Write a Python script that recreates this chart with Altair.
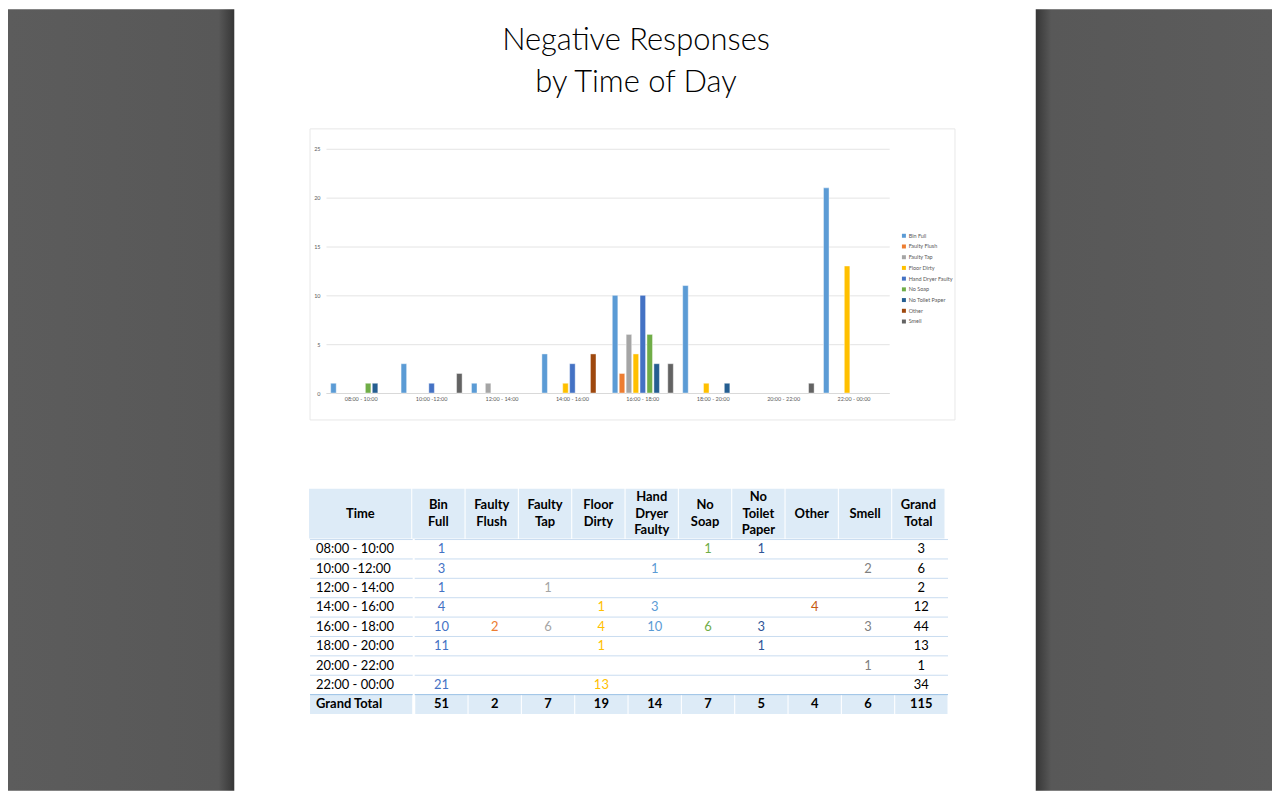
import altair as alt
import pandas as pd

# ---------------- data ----------------
times = ["08:00 - 10:00", "10:00 -12:00", "12:00 - 14:00", "14:00 - 16:00",
         "16:00 - 18:00", "18:00 - 20:00", "20:00 - 22:00", "22:00 - 00:00"]
categories = ["Bin Full", "Faulty Flush", "Faulty Tap", "Floor Dirty",
              "Hand Dryer Faulty", "No Soap", "No Toilet Paper", "Other", "Smell"]

bin_full        = [1, 3, 1, 4, 10, 11, None, 21]
faulty_flush    = [None, None, None, None, 2, None, None, None]
faulty_tap      = [None, None, 1, None, 6, None, None, None]
floor_dirty     = [None, None, None, 1, 4, 1, None, 13]
hand_dryer      = [None, 1, None, 3, 10, None, None, None]
no_soap         = [1, None, None, None, 6, None, None, None]
no_toilet_paper = [1, None, None, None, 3, 1, None, None]
other           = [None, None, None, 4, None, None, None, None]
smell           = [None, 2, None, None, 3, None, 1, None]

row_totals = [3, 6, 2, 12, 44, 13, 1, 34]
column_totals = [51, 2, 7, 19, 14, 7, 5, 4, 6]
grand_total = 115

header_labels = ["Bin\nFull", "Faulty\nFlush", "Faulty\nTap", "Floor\nDirty",
                 "Hand\nDryer\nFaulty", "No\nSoap", "No\nToilet\nPaper",
                 "Other", "Smell", "Grand\nTotal"]

title_lines = ["Negative Responses", "by Time of Day"]

series = [bin_full, faulty_flush, faulty_tap, floor_dirty, hand_dryer,
          no_soap, no_toilet_paper, other, smell]

# ---------------- styles ----------------
bar_colors = ["#5b9bd5", "#ed7d31", "#a5a5a5", "#ffc000", "#4472c4",
              "#70ad47", "#255e91", "#9e480e", "#636363"]
table_colors = ["#4472c4", "#ed7d31", "#a5a5a5", "#ffc000", "#5b9bd5",
                "#70ad47", "#2f5597", "#c55a11", "#7f7f7f"]
FONT = "Lato"
HEAD_BG = "#ddebf7"

# ---------------- tables built from arrays ----------------
bar_rows = []
for cat, vals in zip(categories, series):
    for t, v in zip(times, vals):
        if v is not None:
            bar_rows.append({"Time": t, "Category": cat, "Count": v})
bars_df = pd.DataFrame(bar_rows)

columns = categories + ["Grand Total"]
row_names = times + ["Grand Total"]

cells = []
for cat, vals in zip(categories, series):
    for t, v in zip(times, vals):
        if v is not None:
            cells.append({"Row": t, "Column": cat, "Value": str(v), "Kind": "cell"})
for t, v in zip(times, row_totals):
    cells.append({"Row": t, "Column": "Grand Total", "Value": str(v), "Kind": "rowtotal"})
for cat, v in zip(categories, column_totals):
    cells.append({"Row": "Grand Total", "Column": cat, "Value": str(v), "Kind": "total"})
cells.append({"Row": "Grand Total", "Column": "Grand Total", "Value": str(grand_total), "Kind": "total"})
cells_df = pd.DataFrame(cells)

header_df = pd.DataFrame({"Column": columns, "Label": header_labels})
rows_df = pd.DataFrame({"Row": row_names})
total_bg_df = pd.DataFrame({"Row": ["Grand Total"] * len(columns), "Column": columns})
title_df = pd.DataFrame({"Line": title_lines})
one_df = pd.DataFrame({"s": [0]})


def spacer(w, h):
    return alt.Chart(one_df).mark_text(text="", fontSize=1, baseline="top").encode(
        x=alt.value(1), y=alt.value(1)).properties(width=w, height=h)


def gray(w, h, stops):
    grad = alt.LinearGradient(
        gradient="linear", x1=0, x2=1, y1=0, y2=0,
        stops=[alt.GradientStop(offset=o, color=c) for o, c in stops])
    return alt.Chart(one_df).mark_rect(color=grad).encode(
        x=alt.value(0), x2=alt.value(w), y=alt.value(0), y2=alt.value(h)
    ).properties(width=w, height=h)


# ---------------- title ----------------
title_unit = alt.Chart(title_df).mark_text(
    font=FONT, fontSize=31, fontWeight=300, color="#000000", baseline="alphabetic"
).encode(
    x=alt.value(403),
    y=alt.Y("Line:N", sort=title_lines,
            scale=alt.Scale(type="point", domain=title_lines, range=[41, 83], padding=0),
            axis=None),
    text="Line:N",
).properties(width=800, height=119)

# ---------------- bar chart ----------------
bar_marks = alt.Chart(bars_df).mark_bar(stroke="white", strokeWidth=0.6, strokeOpacity=0.7).encode(
    x=alt.X("Time:N", sort=times,
            scale=alt.Scale(domain=times, paddingInner=0.133, paddingOuter=0.0665),
            axis=alt.Axis(title=None, labelAngle=0, labelFont=FONT, labelFontSize=5.5,
                          labelColor="#595959", domainColor="#d9d9d9", ticks=False,
                          labelPadding=4)),
    xOffset=alt.XOffset("Category:N", sort=categories,
                        scale=alt.Scale(domain=categories, paddingInner=0.2, paddingOuter=0)),
    y=alt.Y("Count:Q", scale=alt.Scale(domain=[0, 25]),
            axis=alt.Axis(title=None, values=[0, 5, 10, 15, 20, 25], domain=False,
                          ticks=False, gridColor="#e4e4e4", labelFont=FONT,
                          labelFontSize=5.5, labelColor="#595959", labelPadding=6)),
    color=alt.Color("Category:N", sort=categories,
                    scale=alt.Scale(domain=categories, range=bar_colors),
                    legend=alt.Legend(title=None, orient="none", legendX=577, legendY=84.5,
                                      symbolType="square", symbolSize=16,
                                      symbolStrokeWidth=0, labelFont=FONT,
                                      labelFontSize=5.5, labelColor="#595959",
                                      rowPadding=3.75, labelOffset=2)),
)
chart_frame = alt.Chart(one_df).mark_rect(fill="transparent", stroke="#e8e8e8", strokeWidth=1).encode(
    x=alt.value(-16), x2=alt.value(631), y=alt.value(-20), y2=alt.value(272))

bars = alt.layer(chart_frame, bar_marks).properties(width=565, height=245)

# ---------------- table ----------------
X_cols = alt.X("Column:N", sort=columns,
               scale=alt.Scale(domain=columns, paddingInner=0, paddingOuter=0), axis=None)
Y_rows = alt.Y("Row:N", sort=row_names,
               scale=alt.Scale(domain=row_names, paddingInner=0, paddingOuter=0), axis=None)
cell_w = alt.RelativeBandSize(band=0.98)


def header_text(n, y):
    return alt.Chart(header_df).transform_calculate(
        n="length(split(datum.Label, '\\n'))"
    ).transform_filter(f"datum.n == {n}").mark_text(
        font=FONT, fontSize=13, fontWeight="bold", lineBreak="\n", lineHeight=16.5,
        baseline="middle", color="#000000", clip=True
    ).encode(x=X_cols, y=alt.value(y), text="Label:N")


values_header = alt.layer(
    alt.Chart(header_df).mark_rect(fill=HEAD_BG, width=cell_w).encode(
        x=X_cols, y=alt.value(0), y2=alt.value(50)),
    header_text(1, 25),
    header_text(2, 16.75),
    header_text(3, 8.5),
).properties(width=535, height=50)

time_df = pd.DataFrame({"Label": ["Time"]})
time_header = alt.layer(
    alt.Chart(time_df).mark_rect(fill=HEAD_BG).encode(
        x=alt.value(0), x2=alt.value(102.5), y=alt.value(0), y2=alt.value(50)),
    alt.Chart(time_df).mark_text(font=FONT, fontSize=13, fontWeight="bold",
                                 baseline="middle", color="#000000", clip=True).encode(
        x=alt.value(51.5), y=alt.value(25), text="Label:N"),
).properties(width=103, height=50)

rule_color = alt.condition("datum.Row == 'Grand Total'", alt.value("#9bc2e6"), alt.value("#c9dcf0"))
Y_rule = alt.Y("Row:N", sort=row_names, bandPosition=0,
               scale=alt.Scale(domain=row_names, paddingInner=0, paddingOuter=0), axis=None)

values_body = alt.layer(
    alt.Chart(total_bg_df).mark_rect(fill=HEAD_BG, width=cell_w).encode(
        x=X_cols, y=Y_rows),
    alt.Chart(rows_df).mark_rule(strokeWidth=1).encode(y=Y_rule, color=rule_color),
    alt.Chart(cells_df).transform_filter("datum.Kind == 'cell'").mark_text(
        font=FONT, fontSize=13, baseline="middle").encode(
        x=X_cols, y=Y_rows, text="Value:N",
        color=alt.Color("Column:N", scale=alt.Scale(domain=categories, range=table_colors), legend=None)),
    alt.Chart(cells_df).transform_filter("datum.Kind == 'rowtotal'").mark_text(
        font=FONT, fontSize=13, baseline="middle", color="#000000").encode(
        x=X_cols, y=Y_rows, text="Value:N"),
    alt.Chart(cells_df).transform_filter("datum.Kind == 'total'").mark_text(
        font=FONT, fontSize=13, fontWeight="bold", baseline="middle", color="#000000").encode(
        x=X_cols, y=Y_rows, text="Value:N"),
).properties(width=535, height=175)

time_body = alt.layer(
    alt.Chart(pd.DataFrame({"Row": ["Grand Total"]})).mark_rect(fill=HEAD_BG).encode(
        y=Y_rows, x=alt.value(0), x2=alt.value(102.5)),
    alt.Chart(rows_df).mark_rule(strokeWidth=1).encode(y=Y_rule, color=rule_color),
    alt.Chart(rows_df).transform_filter("datum.Row != 'Grand Total'").mark_text(
        font=FONT, fontSize=13, baseline="middle", align="left", color="#000000").encode(
        x=alt.value(6), y=Y_rows, text="Row:N"),
    alt.Chart(rows_df).transform_filter("datum.Row == 'Grand Total'").mark_text(
        font=FONT, fontSize=13, fontWeight="bold", baseline="middle", align="left",
        color="#000000").encode(
        x=alt.value(6), y=Y_rows, text="Row:N"),
).properties(width=103, height=175)

# ---------------- page layout ----------------
bars_row = alt.hconcat(spacer(75, 10), bars, spacer(70, 10), spacing=0).resolve_scale(color="independent")
header_row = alt.hconcat(spacer(75, 50), time_header, values_header, spacer(87, 50), spacing=0).resolve_scale(color="independent")
body_row = alt.hconcat(spacer(75, 175), time_body, values_body, spacer(87, 175), spacing=0).resolve_scale(color="independent")

center = alt.vconcat(
    title_unit,
    bars_row,
    spacer(800, 68),
    header_row,
    body_row,
    spacer(800, 78),
    spacing=0,
).resolve_scale(color="independent")

left = gray(227, 784, [(0, "#5c5c5c"), (0.93, "#585858"), (1, "#363636")])
right = gray(237, 784, [(0, "#363636"), (0.065, "#585858"), (1, "#5c5c5c")])

chart = alt.hconcat(left, center, right, spacing=0).resolve_scale(color="independent").properties(
    padding=0, background="white"
).configure_view(strokeWidth=0)

chart.save("out.html", embed_options={"renderer": "svg", "actions": False})
